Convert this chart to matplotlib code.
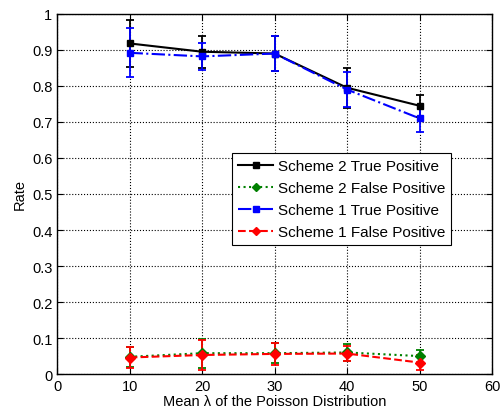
import matplotlib.pyplot as plt
from matplotlib.lines import Line2D

lam = [10, 20, 30, 40, 50]

# Scheme 2
s2_tp = [0.918, 0.895, 0.890, 0.795, 0.745]
s2_tp_err = [0.065, 0.045, 0.048, 0.055, 0.030]
s2_fp = [0.048, 0.058, 0.058, 0.060, 0.050]
s2_fp_err = [0.028, 0.040, 0.028, 0.023, 0.018]

# Scheme 1
s1_tp = [0.892, 0.882, 0.890, 0.790, 0.710]
s1_tp_err = [0.068, 0.037, 0.048, 0.048, 0.038]
s1_fp = [0.046, 0.053, 0.056, 0.057, 0.032]
s1_fp_err = [0.030, 0.041, 0.031, 0.020, 0.020]

series = [
    (s2_tp, s2_tp_err, 'black', '-', 's', 'Scheme 2 True Positive'),
    (s2_fp, s2_fp_err, 'green', ':', 'D', 'Scheme 2 False Positive'),
    (s1_tp, s1_tp_err, 'blue', '-.', 's', 'Scheme 1 True Positive'),
    (s1_fp, s1_fp_err, 'red', '--', 'D', 'Scheme 1 False Positive'),
]

plt.rcParams['font.family'] = ['Liberation Sans', 'DejaVu Sans']
fig = plt.figure(figsize=(5.01, 4.14), dpi=100)
ax = fig.add_axes([0.114, 0.094, 0.868, 0.870])

handles = []
for y, err, c, ls, m, lab in series:
    ax.errorbar(lam, y, yerr=err, color=c, ls=ls, marker=m, lw=1.5,
                capsize=3, elinewidth=1.3, capthick=1.3, markersize=5)
    handles.append(Line2D([], [], color=c, ls=ls, marker=m, lw=1.5,
                          markersize=4, label=lab))

ax.set_xlim(0, 60)
ax.set_ylim(0, 1)
ax.set_xticks(range(0, 61, 10))
ax.set_yticks([i / 10 for i in range(11)])
ax.set_yticklabels(['0'] + ['0.%d' % i for i in range(1, 10)] + ['1'])
ax.grid(True, color='black', ls=':', lw=0.8)
ax.tick_params(direction='in', labelsize=10.5, length=4, top=True, right=True)
for s in ax.spines.values():
    s.set_linewidth(1.0)
ax.set_xlabel('Mean \u03bb of the Poisson Distribution', fontsize=10.5, labelpad=1)
ax.set_ylabel('Rate', fontsize=10.5)

leg = ax.legend(handles=handles, loc='upper left', bbox_to_anchor=(0.385, 0.635),
                fontsize=11, fancybox=False, framealpha=1, edgecolor='black',
                handlelength=2.3, handletextpad=0.3, borderpad=0.4,
                labelspacing=0.52)
leg.get_frame().set_linewidth(0.8)

fig.savefig('out.png')
